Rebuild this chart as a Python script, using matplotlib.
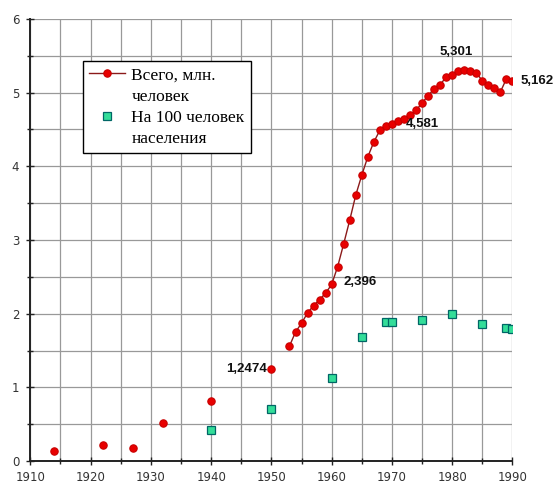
import numpy as np
import matplotlib.pyplot as plt
from matplotlib.lines import Line2D
from matplotlib.ticker import MultipleLocator

plt.rcParams['font.family'] = ['DejaVu Sans']

# total, mln people: scattered early years (no line) and the yearly series
early_years = [1914, 1922, 1927, 1932, 1940, 1950]
early_total = [0.13, 0.22, 0.17, 0.51, 0.81, 1.2474]

years = list(range(1953, 1991))
total = [1.56, 1.75, 1.87, 2.01, 2.11, 2.19, 2.28, 2.396, 2.64, 2.95,
         3.27, 3.61, 3.88, 4.13, 4.33, 4.49, 4.55, 4.581, 4.61, 4.64,
         4.69, 4.76, 4.86, 4.96, 5.05, 5.11, 5.21, 5.24, 5.29, 5.301,
         5.29, 5.27, 5.16, 5.11, 5.06, 5.01, 5.19, 5.162]

# per 100 people
rate_years = [1940, 1950, 1960, 1965, 1969, 1970, 1975, 1980, 1985, 1989, 1990]
rate = [0.42, 0.71, 1.13, 1.68, 1.89, 1.89, 1.91, 1.99, 1.86, 1.80, 1.79]

# labelled points: (year, value, text, offset in pixels, ha)
labels = [(1950, 1.2474, '1,2474', (-4, 0), 'right'),
          (1960, 2.396, '2,396', (12, 2), 'left'),
          (1970, 4.581, '4,581', (14, 0), 'left'),
          (1982, 5.301, '5,301', (-8, 18), 'center'),
          (1990, 5.162, '5,162', (8, 0), 'left')]

fig = plt.figure(figsize=(5.55, 4.86), dpi=100)
ax = fig.add_axes([0.0546, 0.0514, 0.8688, 0.9096])

red = dict(marker='o', markersize=5.3, markerfacecolor='#e80000',
           markeredgecolor='#c80000', markeredgewidth=0.8)
ax.plot(early_years, early_total, linestyle='none', zorder=3, **red)
ax.plot(years, total, color='#8b1a1a', linewidth=1, zorder=3, **red)
sq = dict(marker='s', markersize=5.5, markerfacecolor='#33dd99',
          markeredgecolor='#006666', markeredgewidth=0.9)
ax.plot(rate_years, rate, linestyle='none', zorder=3, **sq)

for yr, val, txt, off, ha in labels:
    ax.annotate(txt, (yr, val), xytext=off, textcoords='offset pixels',
                ha=ha, va='center', fontsize=9.5, fontweight='bold',
                family=['Liberation Sans'], color='#111111')

ax.set_xlim(1910, 1990)
ax.set_ylim(0, 6)
ax.xaxis.set_major_locator(MultipleLocator(10))
ax.xaxis.set_minor_locator(MultipleLocator(5))
ax.yaxis.set_major_locator(MultipleLocator(1))
ax.yaxis.set_minor_locator(MultipleLocator(0.5))
ax.grid(True, which='both', color='#999999', linewidth=0.9)
ax.set_axisbelow(True)
for s in ['top', 'right']:
    ax.spines[s].set_visible(False)
for s in ['left', 'bottom']:
    ax.spines[s].set_linewidth(1.4)
    ax.spines[s].set_color('#222222')
ax.tick_params(which='both', direction='inout', length=6, width=1,
               labelsize=8.5, labelcolor='#333333', color='#222222')
ax.tick_params(which='minor', length=5)
ax.tick_params(axis='x', pad=4)
ax.tick_params(axis='y', pad=5)

blank = Line2D([], [], linestyle='none')
handles = [Line2D([], [], color='#8b1a1a', linewidth=1, **red), blank,
           Line2D([], [], linestyle='none', **sq), blank]
names = ['Всего, млн.', 'человек', 'На 100 человек', 'населения']
leg = ax.legend(handles, names, loc='upper left', bbox_to_anchor=(0.109, 0.905),
                borderaxespad=0, fancybox=False, framealpha=1,
                edgecolor='black', labelspacing=0.3, handlelength=2.1,
                handletextpad=0.35, borderpad=0.35,
                prop={'family': 'Liberation Serif', 'size': 12.5})
leg.get_frame().set_linewidth(1)

fig.savefig('out.png')
